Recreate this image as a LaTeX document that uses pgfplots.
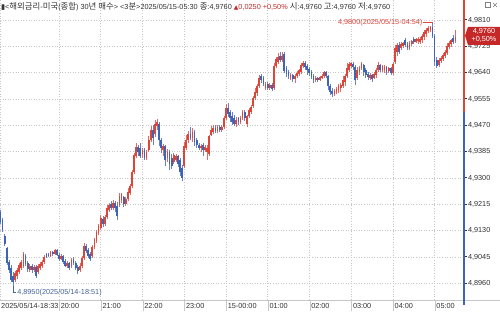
\documentclass[border=0pt]{standalone}
\usepackage{fontspec}
\setmainfont{Liberation Sans}
\newfontfamily\kr{Noto Sans CJK KR}[Scale=1.15]
\newfontfamily\sym{DejaVu Sans}
\usepackage{pgfplots}
\pgfplotsset{compat=1.18}
\usepackage{pgfplotstable}
\definecolor{upc}{RGB}{222,68,56}
\definecolor{dnc}{RGB}{62,100,184}
\definecolor{txt}{RGB}{50,50,50}
\definecolor{boxred}{RGB}{196,40,40}
\definecolor{grd}{RGB}{200,200,200}
\definecolor{lowc}{RGB}{70,100,150}
\newcommand\fs{\fontsize{7.3}{8.5}\selectfont}
\newcommand\xtl{\textcolor{grd}{\vrule height 8pt depth 2.5pt width 0.5pt}\hspace{1.2pt}}
\newcommand\xtf{\vrule height 8pt depth 2.5pt width 0pt\hspace{1pt}}
\newcommand\ytl{\textcolor{txt}{\rule[2.2pt]{3pt}{0.5pt}}\hspace{0.8pt}}

% rising candles (close >= open): index, open, high, low, close
\pgfplotstableread{
i o h l c
7 4.8971 4.9000 4.8964 4.8993
8 4.8984 4.9009 4.8974 4.9003
9 4.8997 4.9026 4.8990 4.9019
10 4.9009 4.9035 4.9003 4.9029
11 4.9016 4.9061 4.9009 4.9055
14 4.9003 4.9022 4.8997 4.9016
16 4.9003 4.9019 4.8997 4.9013
18 4.8997 4.9022 4.8990 4.9016
19 4.9009 4.9029 4.9003 4.9022
20 4.9016 4.9035 4.9009 4.9029
21 4.9029 4.9051 4.9022 4.9045
24 4.9048 4.9064 4.9045 4.9061
26 4.9055 4.9071 4.9051 4.9068
29 4.9039 4.9055 4.9035 4.9048
32 4.9016 4.9032 4.9009 4.9026
34 4.9016 4.9042 4.9009 4.9035
38 4.9003 4.9026 4.8997 4.9016
39 4.9016 4.9048 4.9009 4.9042
40 4.9042 4.9090 4.9035 4.9081
44 4.9048 4.9084 4.9042 4.9077
45 4.9077 4.9106 4.9071 4.9100
46 4.9097 4.9132 4.9090 4.9126
47 4.9122 4.9152 4.9116 4.9145
48 4.9139 4.9181 4.9132 4.9171
50 4.9152 4.9181 4.9145 4.9174
51 4.9174 4.9213 4.9168 4.9203
52 4.9197 4.9219 4.9190 4.9213
54 4.9203 4.9229 4.9197 4.9219
57 4.9213 4.9252 4.9206 4.9242
58 4.9229 4.9252 4.9219 4.9248
60 4.9216 4.9239 4.9210 4.9232
61 4.9232 4.9268 4.9226 4.9255
62 4.9252 4.9281 4.9245 4.9274
63 4.9274 4.9326 4.9268 4.9319
64 4.9319 4.9381 4.9313 4.9374
65 4.9371 4.9413 4.9365 4.9400
68 4.9377 4.9397 4.9365 4.9390
70 4.9365 4.9390 4.9358 4.9384
71 4.9390 4.9436 4.9384 4.9423
72 4.9423 4.9468 4.9416 4.9455
74 4.9442 4.9487 4.9432 4.9474
75 4.9468 4.9490 4.9455 4.9481
78 4.9390 4.9410 4.9371 4.9403
80 4.9365 4.9394 4.9352 4.9384
83 4.9352 4.9381 4.9345 4.9374
84 4.9358 4.9377 4.9352 4.9371
88 4.9339 4.9416 4.9332 4.9403
89 4.9397 4.9439 4.9390 4.9423
90 4.9423 4.9452 4.9413 4.9442
92 4.9429 4.9461 4.9416 4.9448
96 4.9397 4.9410 4.9384 4.9403
98 4.9390 4.9407 4.9384 4.9400
99 4.9384 4.9407 4.9358 4.9397
100 4.9377 4.9439 4.9371 4.9436
101 4.9439 4.9468 4.9436 4.9455
102 4.9448 4.9471 4.9442 4.9461
104 4.9452 4.9471 4.9445 4.9465
106 4.9455 4.9471 4.9448 4.9465
107 4.9465 4.9500 4.9458 4.9494
108 4.9494 4.9539 4.9487 4.9526
113 4.9474 4.9497 4.9465 4.9487
115 4.9481 4.9500 4.9474 4.9494
116 4.9494 4.9519 4.9487 4.9513
118 4.9474 4.9503 4.9465 4.9500
119 4.9500 4.9526 4.9494 4.9519
120 4.9513 4.9536 4.9507 4.9529
121 4.9532 4.9565 4.9526 4.9558
122 4.9558 4.9591 4.9552 4.9578
123 4.9574 4.9603 4.9565 4.9597
124 4.9597 4.9632 4.9591 4.9623
127 4.9591 4.9610 4.9584 4.9603
129 4.9591 4.9607 4.9584 4.9600
131 4.9591 4.9671 4.9584 4.9662
132 4.9662 4.9691 4.9655 4.9684
133 4.9674 4.9703 4.9668 4.9691
135 4.9681 4.9707 4.9674 4.9694
139 4.9623 4.9639 4.9616 4.9632
141 4.9620 4.9636 4.9607 4.9629
142 4.9629 4.9645 4.9623 4.9639
143 4.9636 4.9652 4.9629 4.9649
144 4.9642 4.9671 4.9636 4.9665
145 4.9662 4.9678 4.9655 4.9671
151 4.9616 4.9629 4.9610 4.9623
153 4.9616 4.9629 4.9613 4.9626
154 4.9623 4.9636 4.9620 4.9629
155 4.9629 4.9645 4.9623 4.9642
160 4.9571 4.9587 4.9565 4.9581
161 4.9578 4.9594 4.9571 4.9587
162 4.9584 4.9603 4.9574 4.9597
163 4.9591 4.9607 4.9578 4.9600
164 4.9597 4.9629 4.9591 4.9616
165 4.9610 4.9636 4.9597 4.9629
166 4.9629 4.9671 4.9623 4.9655
167 4.9649 4.9674 4.9642 4.9668
168 4.9662 4.9674 4.9655 4.9671
171 4.9623 4.9658 4.9616 4.9649
172 4.9642 4.9662 4.9632 4.9655
173 4.9655 4.9674 4.9649 4.9668
177 4.9623 4.9639 4.9616 4.9632
179 4.9623 4.9642 4.9620 4.9636
180 4.9632 4.9655 4.9623 4.9649
181 4.9649 4.9674 4.9642 4.9665
183 4.9649 4.9665 4.9642 4.9662
184 4.9649 4.9665 4.9639 4.9658
186 4.9645 4.9658 4.9639 4.9655
188 4.9639 4.9674 4.9632 4.9668
189 4.9674 4.9729 4.9668 4.9720
190 4.9707 4.9736 4.9694 4.9729
192 4.9720 4.9739 4.9713 4.9733
193 4.9726 4.9739 4.9720 4.9736
196 4.9720 4.9742 4.9713 4.9736
197 4.9733 4.9745 4.9726 4.9742
199 4.9739 4.9752 4.9736 4.9749
200 4.9742 4.9755 4.9733 4.9749
201 4.9739 4.9755 4.9733 4.9749
202 4.9745 4.9765 4.9736 4.9758
203 4.9755 4.9778 4.9745 4.9771
204 4.9765 4.9784 4.9755 4.9778
205 4.9774 4.9791 4.9768 4.9784
206 4.9778 4.9791 4.9771 4.9787
210 4.9665 4.9687 4.9658 4.9681
211 4.9678 4.9694 4.9671 4.9687
212 4.9684 4.9703 4.9678 4.9697
213 4.9694 4.9713 4.9687 4.9707
214 4.9703 4.9736 4.9697 4.9726
215 4.9723 4.9742 4.9716 4.9736
216 4.9733 4.9749 4.9723 4.9745
218 4.9742 4.9778 4.9736 4.9755
219 4.9760 4.9760 4.9760 4.9760
}\upcandles

% falling candles (close < open): index, open, high, low, close
\pgfplotstableread{
i o h l c
0 4.9190 4.9197 4.9152 4.9158
1 4.9164 4.9171 4.9126 4.9132
2 4.9113 4.9119 4.9081 4.9087
3 4.9074 4.9077 4.9019 4.9026
4 4.9029 4.9035 4.8993 4.9003
5 4.9009 4.9019 4.8964 4.8971
6 4.8984 4.8997 4.8950 4.8964
12 4.9048 4.9055 4.9016 4.9022
13 4.9026 4.9032 4.8997 4.9006
15 4.9016 4.9022 4.8993 4.9003
17 4.9013 4.9019 4.8977 4.8984
22 4.9055 4.9058 4.9042 4.9045
23 4.9055 4.9058 4.9045 4.9048
25 4.9061 4.9064 4.9048 4.9055
27 4.9068 4.9071 4.9048 4.9051
28 4.9051 4.9058 4.9032 4.9039
30 4.9048 4.9051 4.9022 4.9029
31 4.9032 4.9039 4.9013 4.9016
33 4.9026 4.9029 4.9003 4.9009
35 4.9039 4.9045 4.9019 4.9026
36 4.9026 4.9032 4.9003 4.9009
37 4.9013 4.9019 4.8990 4.9000
41 4.9081 4.9087 4.9058 4.9064
42 4.9068 4.9074 4.9042 4.9048
43 4.9055 4.9061 4.9032 4.9039
49 4.9168 4.9177 4.9142 4.9152
53 4.9216 4.9226 4.9197 4.9203
55 4.9219 4.9226 4.9190 4.9203
56 4.9210 4.9223 4.9164 4.9177
59 4.9239 4.9242 4.9206 4.9216
66 4.9400 4.9407 4.9371 4.9384
67 4.9397 4.9413 4.9365 4.9371
69 4.9390 4.9397 4.9358 4.9365
73 4.9455 4.9471 4.9407 4.9429
76 4.9474 4.9481 4.9403 4.9423
77 4.9423 4.9429 4.9381 4.9397
79 4.9403 4.9407 4.9339 4.9358
81 4.9384 4.9390 4.9326 4.9345
82 4.9365 4.9377 4.9329 4.9339
85 4.9371 4.9374 4.9336 4.9345
86 4.9358 4.9365 4.9306 4.9319
87 4.9332 4.9342 4.9290 4.9300
91 4.9442 4.9465 4.9423 4.9429
93 4.9448 4.9455 4.9403 4.9416
94 4.9423 4.9429 4.9397 4.9407
95 4.9407 4.9413 4.9390 4.9397
97 4.9407 4.9413 4.9371 4.9390
103 4.9461 4.9471 4.9445 4.9452
105 4.9465 4.9471 4.9448 4.9455
109 4.9526 4.9542 4.9497 4.9507
110 4.9513 4.9519 4.9481 4.9494
111 4.9500 4.9513 4.9471 4.9481
112 4.9494 4.9503 4.9468 4.9474
114 4.9494 4.9497 4.9471 4.9481
117 4.9513 4.9519 4.9484 4.9494
125 4.9629 4.9636 4.9607 4.9616
126 4.9623 4.9629 4.9597 4.9603
128 4.9603 4.9610 4.9584 4.9591
130 4.9600 4.9607 4.9581 4.9587
134 4.9694 4.9707 4.9674 4.9681
136 4.9700 4.9707 4.9639 4.9645
137 4.9655 4.9662 4.9626 4.9636
138 4.9642 4.9649 4.9620 4.9629
140 4.9632 4.9636 4.9610 4.9620
146 4.9671 4.9678 4.9649 4.9658
147 4.9662 4.9668 4.9632 4.9649
148 4.9652 4.9658 4.9629 4.9639
149 4.9642 4.9649 4.9620 4.9626
150 4.9629 4.9636 4.9607 4.9616
152 4.9623 4.9626 4.9610 4.9616
156 4.9642 4.9645 4.9623 4.9629
157 4.9629 4.9632 4.9584 4.9597
158 4.9597 4.9603 4.9568 4.9578
159 4.9581 4.9591 4.9561 4.9571
169 4.9668 4.9674 4.9649 4.9658
170 4.9658 4.9665 4.9600 4.9616
174 4.9665 4.9668 4.9629 4.9642
175 4.9649 4.9655 4.9623 4.9632
176 4.9636 4.9642 4.9616 4.9626
178 4.9632 4.9636 4.9610 4.9620
182 4.9665 4.9668 4.9642 4.9649
185 4.9658 4.9662 4.9632 4.9642
187 4.9655 4.9658 4.9632 4.9639
191 4.9729 4.9739 4.9700 4.9707
194 4.9745 4.9752 4.9723 4.9729
195 4.9733 4.9739 4.9713 4.9720
198 4.9749 4.9755 4.9733 4.9739
207 4.9787 4.9800 4.9752 4.9758
208 4.9758 4.9765 4.9662 4.9674
209 4.9681 4.9691 4.9655 4.9662
217 4.9752 4.9762 4.9733 4.9739
}\dncandles

\begin{document}
\begin{tikzpicture}[x=1pt,y=1pt]
\useasboundingbox (0,0) rectangle (500,314);
\fill[white] (0,0) rectangle (500,314);
\begin{axis}[
  at={(0pt,14pt)}, anchor=south west, scale only axis,
  width=464pt, height=300pt,
  xmin=-0.24, xmax=222.1, ymin=4.890619, ymax=4.987456,
  axis line style={draw=none},
  tick style={draw=none},
  grid=major,
  major grid style={draw=grd, line width=0.5pt, dash pattern=on 1pt off 1.6pt},
  xtick={-0.24,28,48,68,88,108,128,148,168,188,208},
  xticklabels={{\xtf 2025/05/14-18:33},{\xtl 20:00},{\xtl 21:00},{\xtl 22:00},{\xtl 23:00},{\xtl 15-00:00},{\xtl 01:00},{\xtl 02:00},{\xtl 03:00},{\xtl 04:00},{\xtl 05:00}},
  xticklabel style={anchor=north west, inner sep=0pt, font=\fs, text=txt},
  ytick={4.8960,4.9045,4.9130,4.9215,4.9300,4.9385,4.9470,4.9555,4.9640,4.9725,4.9810},
  yticklabels={{\ytl 4,8960},{\ytl 4,9045},{\ytl 4,9130},{\ytl 4,9215},{\ytl 4,9300},{\ytl 4,9385},{\ytl 4,9470},{\ytl 4,9555},{\ytl 4,9640},{\ytl 4,9725},{\ytl 4,9810}},
  yticklabel pos=right,
  yticklabel style={anchor=west, inner sep=0pt, font=\fs, text=txt},
]
% rising candles: wicks and bodies
\addplot[draw=none, mark=none, forget plot,
  error bars/.cd, y dir=plus, y explicit, error mark=none,
  error bar style={draw=upc!80, line width=0.5pt}]
  table[x=i, y=l, y error expr={\thisrow{h}-\thisrow{l}}] {\upcandles};
\addplot[draw=none, mark=none, forget plot,
  error bars/.cd, y dir=plus, y explicit, error mark=none,
  error bar style={draw=upc, line width=1.8pt}]
  table[x=i, y=o, y error expr={\thisrow{c}-\thisrow{o}}] {\upcandles};
% falling candles
\addplot[draw=none, mark=none, forget plot,
  error bars/.cd, y dir=plus, y explicit, error mark=none,
  error bar style={draw=dnc!80, line width=0.5pt}]
  table[x=i, y=l, y error expr={\thisrow{h}-\thisrow{l}}] {\dncandles};
\addplot[draw=none, mark=none, forget plot,
  error bars/.cd, y dir=plus, y explicit, error mark=none,
  error bar style={draw=dnc, line width=1.8pt}]
  table[x=i, y=c, y error expr={\thisrow{o}-\thisrow{c}}] {\dncandles};
% reference points for the high / low annotations
\coordinate (hi) at (axis cs:207,4.9800);
\coordinate (lo) at (axis cs:6,4.8950);
\end{axis}
\draw[upc, line width=0.5pt] (hi) -- ++(0,0.8) -- ++(-9,0)
  node[anchor=east, inner sep=0.8pt, font=\fs, text=upc] {4,9800(2025/05/15-04:54)};
\draw[lowc, line width=0.5pt] (lo) -- ++(0,-6.3) -- ++(3.2,0)
  node[anchor=west, inner sep=0.8pt, font=\fs, text=lowc] {4,8950(2025/05/14-18:51)};
% x label band line
\draw[gray!45, line width=0.6pt] (0,14) -- (500,14);
% right price axis line: red above reference price, blue below
\draw[upc, line width=1.2pt] (464,314) -- (464,202);
\draw[dnc, line width=1.2pt] (464,202) -- (464,9);
% current price box
\fill[boxred] (465,278.5) -- (468,287) -- (500,287) -- (500,269) -- (468,269) -- cycle;
\node[text=white, font=\fs, inner sep=0] at (484,283) {4,9760};
\node[text=white, font=\fs, inner sep=0] at (484,275) {+0,50\%};
% title
\node[anchor=west, inner sep=0, font=\fs, text=txt] at (1,307.5)
 {{\sym ▮}<{\kr 해외금리}-{\kr 미국}({\kr 종합}) 30{\kr 년} {\kr 매수}> <3{\kr 분}>2025/05/15-05:30 {\kr 종}:4,9760 \textcolor{boxred}{{\sym\fontsize{6}{7}\selectfont ▲}0,0250 +0,50\%} {\kr 시}:4,9760 {\kr 고}:4,9760 {\kr 저}:4,9760};
% window icons
\draw[gray, line width=0.4pt] (485.5,306.5) rectangle (490.5,311.5);
\draw[gray, line width=1pt] (485.5,311) -- (490.5,311);
\draw[gray, line width=0.4pt] (493,307) -- (497,311) (493,311) -- (497,307);
\end{tikzpicture}
\end{document}
